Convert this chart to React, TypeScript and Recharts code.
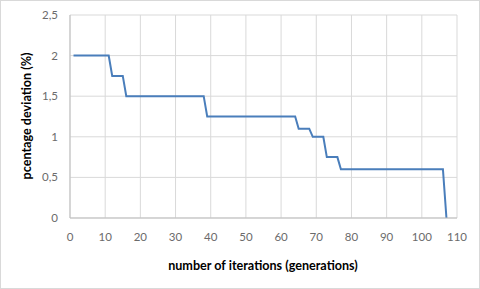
import { LineChart, Line, XAxis, YAxis, CartesianGrid } from 'recharts';

// iteration at which the best value changes, and the deviation there (%)
const iterations = [1, 11, 12, 15, 16, 38, 39, 64, 65, 68, 69, 72, 73, 76, 77, 106, 107];
const deviation = [2, 2, 1.75, 1.75, 1.5, 1.5, 1.25, 1.25, 1.1, 1.1, 1, 1, 0.75, 0.75, 0.6, 0.6, 0];

const xTicks = [0, 10, 20, 30, 40, 50, 60, 70, 80, 90, 100, 110];
const yTicks = [0, 0.5, 1, 1.5, 2, 2.5];

const data = iterations.map((it, i) => ({ it, dev: deviation[i] }));

const FONT = 'Lato, "Open Sans", sans-serif';
const tickStyle = { fontSize: 11.5, fill: '#6b6b6b', fontFamily: FONT };

export default function App() {
  return (
    <div
      style={{
        position: 'absolute',
        left: 0,
        top: 0,
        width: 478,
        height: 287,
        border: '1px solid #d9d9d9',
        background: '#fff',
      }}
    >
      <LineChart width={478} height={287} data={data} margin={{ top: 14, right: 22, left: 0, bottom: 0 }}>
        <CartesianGrid stroke="#d9d9d9" strokeWidth={1} />
        <XAxis
          dataKey="it"
          type="number"
          domain={[0, 110]}
          ticks={xTicks}
          interval={0}
          height={70}
          tickSize={0}
          tickMargin={15}
          tickLine={false}
          axisLine={{ stroke: '#bfbfbf' }}
          tick={tickStyle}
          label={{
            content: () => (
              <text x={262} y={264} textAnchor="middle" dominantBaseline="central"
                style={{ fontSize: 12.6, fontWeight: 'bold', fontFamily: FONT, fill: '#000' }}>
                number of iterations (generations)
              </text>
            ),
          }}
        />
        <YAxis
          type="number"
          domain={[0, 2.5]}
          ticks={yTicks}
          interval={0}
          width={69}
          tickSize={0}
          tickMargin={12}
          tickLine={false}
          axisLine={{ stroke: '#bfbfbf' }}
          tick={tickStyle}
          tickFormatter={(v: number) => String(v).replace('.', ',')}
          label={{
            content: () => (
              <text x={25} y={115} transform="rotate(-90 25 115)" textAnchor="middle" dominantBaseline="central"
                style={{ fontSize: 12.6, fontWeight: 'bold', fontFamily: FONT, fill: '#000' }}>
                pcentage deviation (%)
              </text>
            ),
          }}
        />
        <Line
          type="linear"
          dataKey="dev"
          stroke="#4a7ebb"
          strokeWidth={2}
          dot={false}
          isAnimationActive={false}
        />
      </LineChart>
    </div>
  );
}
